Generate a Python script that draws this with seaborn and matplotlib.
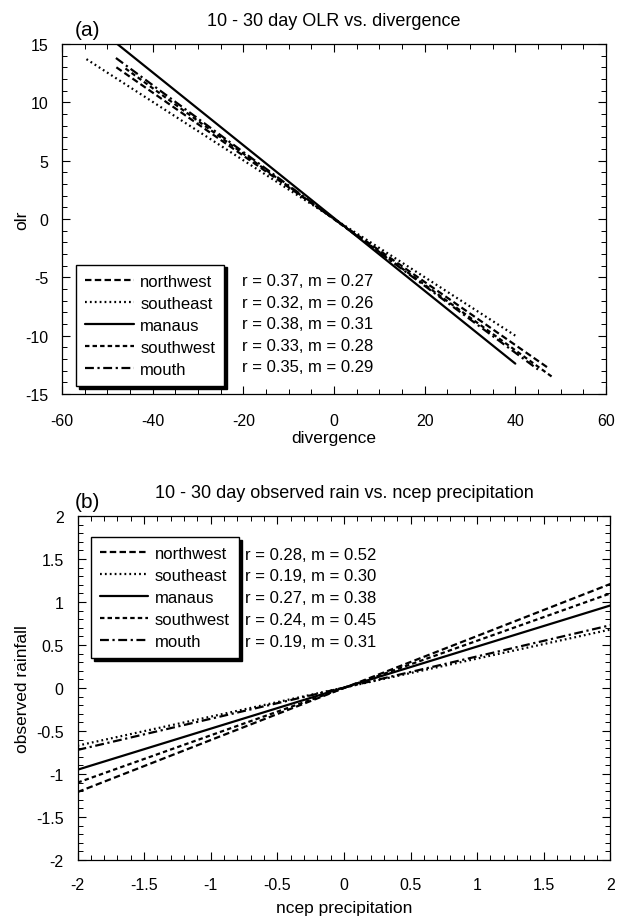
import numpy as np
import pandas as pd
import matplotlib
matplotlib.use('Agg')
import matplotlib.pyplot as plt
from matplotlib.ticker import MultipleLocator
import seaborn as sns

# ---- data ----
regions = ["northwest", "southeast", "manaus", "southwest", "mouth"]

# (a) OLR vs divergence : fitted line end points
a_x_start = [-48.0, -54.6, -47.8, -46.0, -48.1]
a_y_start = [13.0, 13.7, 15.0, 12.9, 13.8]
a_x_end = [47.0, 40.0, 40.0, 48.0, 45.0]
a_y_end = [-12.7, -10.0, -12.4, -13.5, -12.9]
a_r = [0.37, 0.32, 0.38, 0.33, 0.35]
a_m = [0.27, 0.26, 0.31, 0.28, 0.29]

# (b) observed rain vs ncep precipitation : fitted line end points
b_x_start = [-2.0, -2.0, -2.0, -2.0, -2.0]
b_y_start = [-1.21, -0.67, -0.95, -1.10, -0.72]
b_x_end = [2.0, 2.0, 2.0, 2.0, 2.0]
b_y_end = [1.21, 0.68, 0.96, 1.10, 0.73]
b_r = [0.28, 0.19, 0.27, 0.24, 0.19]
b_m = [0.52, 0.30, 0.38, 0.45, 0.31]

line_dashes = {
    "northwest": (2.9, 1.5),
    "southeast": (0.8, 1.4),
    "manaus": "",
    "southwest": (2.0, 1.4),
    "mouth": (4.0, 1.6, 1.0, 1.6),
}


def make_frame(xs, ys, xe, ye):
    rows = []
    for reg, x0, y0, x1, y1 in zip(regions, xs, ys, xe, ye):
        rows.append({"region": reg, "x": x0, "y": y0})
        rows.append({"region": reg, "x": x1, "y": y1})
    return pd.DataFrame(rows)


sns.set_style("ticks")
plt.rcParams['font.family'] = ['Liberation Sans', 'DejaVu Sans']
plt.rcParams.update({
    'axes.unicode_minus': False,
    'text.color': 'black', 'axes.labelcolor': 'black',
    'xtick.color': 'black', 'ytick.color': 'black',
    'axes.edgecolor': 'black', 'axes.linewidth': 0.9,
    'xtick.direction': 'in', 'ytick.direction': 'in',
    'xtick.top': True, 'ytick.right': True,
    'xtick.major.size': 6, 'ytick.major.size': 6,
    'xtick.minor.size': 3.5, 'ytick.minor.size': 3.5,
    'xtick.major.width': 0.8, 'ytick.major.width': 0.8,
    'xtick.minor.width': 0.7, 'ytick.minor.width': 0.7,
    'xtick.labelsize': 11.5, 'ytick.labelsize': 11.5,
    'xtick.major.pad': 12, 'ytick.major.pad': 10,
})

fig = plt.figure(figsize=(6.21, 9.2), dpi=100)
ax_a = fig.add_axes([0.0998, 0.5707, 0.876, 0.3804])
ax_b = fig.add_axes([0.1248, 0.0641, 0.858, 0.3739])


def draw_panel(ax, df, r_vals, m_vals, leg_anchor, leg_loc, txt_x, txt_y0, txt_dy):
    sns.lineplot(data=df, x="x", y="y", style="region", style_order=regions,
                 dashes=line_dashes, color="black", linewidth=1.6,
                 estimator=None, sort=False, ax=ax)
    handles, labels = ax.get_legend_handles_labels()
    leg = ax.legend(handles, labels, loc=leg_loc, bbox_to_anchor=leg_anchor,
                    fontsize=12, frameon=True, fancybox=False,
                    edgecolor="black", framealpha=1,
                    shadow={'color': 'black', 'alpha': 1, 'ox': 2, 'oy': -2},
                    handlelength=2.9, handletextpad=0.4, labelspacing=0.42,
                    borderpad=0.55, borderaxespad=0)
    leg.get_frame().set_linewidth(1.0)
    for i, (r, m) in enumerate(zip(r_vals, m_vals)):
        ax.text(txt_x, txt_y0 - i * txt_dy, f"r = {r:.2f}, m = {m:.2f}",
                transform=ax.transAxes, fontsize=12, va="center", ha="left")


# ---- panel (a) ----
df_a = make_frame(a_x_start, a_y_start, a_x_end, a_y_end)
draw_panel(ax_a, df_a, a_r, a_m, (0.026, 0.023), "lower left", 0.331, 0.323, 0.0614)
ax_a.set_xlim(-60, 60)
ax_a.set_ylim(-15, 15)
ax_a.xaxis.set_major_locator(MultipleLocator(20))
ax_a.xaxis.set_minor_locator(MultipleLocator(5))
ax_a.yaxis.set_major_locator(MultipleLocator(5))
ax_a.yaxis.set_minor_locator(MultipleLocator(1))
ax_a.tick_params(axis="x", which="major", pad=13.5)
ax_a.set_xlabel("divergence", fontsize=12.5, labelpad=2)
ax_a.set_ylabel("olr", fontsize=12.5)
ax_a.yaxis.set_label_coords(-0.060, 0.5)
ax_a.set_title("10 - 30 day OLR vs. divergence", fontsize=13, pad=14)
ax_a.text(0.024, 1.015, "(a)", transform=ax_a.transAxes, fontsize=15, va="bottom")

# ---- panel (b) ----
df_b = make_frame(b_x_start, b_y_start, b_x_end, b_y_end)
draw_panel(ax_b, df_b, b_r, b_m, (0.025, 0.939), "upper left", 0.314, 0.8895, 0.0632)
ax_b.set_xlim(-2, 2)
ax_b.set_ylim(-2, 2)
ax_b.xaxis.set_major_locator(MultipleLocator(0.5))
ax_b.xaxis.set_minor_locator(MultipleLocator(0.1))
ax_b.yaxis.set_major_locator(MultipleLocator(0.5))
ax_b.yaxis.set_minor_locator(MultipleLocator(0.1))
ax_b.xaxis.set_major_formatter(plt.FuncFormatter(lambda v, p: f"{v:g}"))
ax_b.yaxis.set_major_formatter(plt.FuncFormatter(lambda v, p: f"{v:g}"))
ax_b.tick_params(axis="x", which="major", pad=12)
ax_b.set_xlabel("ncep precipitation", fontsize=12.5, labelpad=6)
ax_b.set_ylabel("observed rainfall", fontsize=12.5)
ax_b.yaxis.set_label_coords(-0.090, 0.5)
ax_b.set_title("10 - 30 day observed rain vs. ncep precipitation", fontsize=13, pad=14)
ax_b.text(-0.005, 1.015, "(b)", transform=ax_b.transAxes, fontsize=15, va="bottom")

plt.savefig("out.png", dpi=100)
